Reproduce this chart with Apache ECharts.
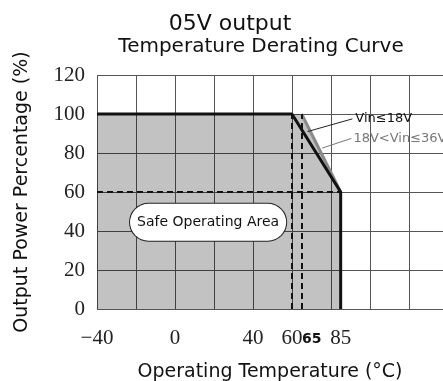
<!DOCTYPE html>
<html>
<head>
<meta charset="utf-8">
<script src="https://cdn.jsdelivr.net/npm/echarts@6/dist/echarts.min.js"></script>
<style>
  html, body { margin: 0; padding: 0; background: #fff; }
  #chart { width: 443px; height: 381px; }
</style>
</head>
<body>
<div id="chart"></div>
<script>
// derating curve, Vin <= 18V
var tempLow = [-40, 60, 85, 85];
var powerLow = [100, 100, 60, 0];
// derating curve, 18V < Vin <= 36V
var tempHigh = [65, 85];
var powerHigh = [100, 60];
// safe operating area outline
var areaTemp = [-40, 60, 65, 85, 85];
var areaPower = [100, 100, 100, 60, 0];
// x tick labels
var xLabels = [-40, 0, 40, 60, 65, 85];
// leader lines for the two labels
var leadLowX = [68, 91];
var leadLowY = [91, 97.5];
var leadHighX = [75.5, 90.5];
var leadHighY = [82.5, 87.5];

var sans = 'DejaVu Sans';
var serif = 'Liberation Serif';

function pairs(xs, ys) {
  return xs.map(function (x, i) { return [x, ys[i]]; });
}

var chart = echarts.init(document.getElementById('chart'));

var dashStyle = { color: '#111', width: 2, type: [6, 4] };

var option = {
  animation: false,
  backgroundColor: '#fff',
  grid: { left: 97, right: 0, top: 75, bottom: 72, outerBoundsMode: 'none', containLabel: false },
  xAxis: {
    type: 'value',
    min: -40,
    max: 137.5,
    interval: 20,
    name: 'Operating Temperature (°C)',
    nameLocation: 'middle',
    nameGap: 54,
    nameTextStyle: { fontFamily: sans, fontSize: 19, color: '#111' },
    axisLine: { show: false },
    axisTick: { show: false },
    axisLabel: {
      customValues: xLabels,
      margin: 19,
      fontFamily: serif,
      fontSize: 21,
      color: '#222',
      formatter: function (v) {
        if (v === 65) return '{b|65}';
        return v < 0 ? '\u2212' + Math.abs(v) : '' + v;
      },
      rich: {
        b: { fontFamily: sans, fontWeight: 'bold', fontSize: 14, color: '#111', padding: [4, 0, 0, 20] }
      }
    },
    splitLine: { show: true, lineStyle: { color: '#555', width: 1 } }
  },
  yAxis: {
    type: 'value',
    min: 0,
    max: 120,
    interval: 20,
    name: 'Output Power Percentage (%)',
    nameLocation: 'middle',
    nameGap: 65,
    nameTextStyle: { fontFamily: sans, fontSize: 19, color: '#111' },
    axisLine: { show: false },
    axisTick: { show: false },
    axisLabel: { margin: 12, fontFamily: serif, fontSize: 21, color: '#222' },
    splitLine: { show: true, lineStyle: { color: '#555', width: 1 } }
  },
  graphic: [
    { type: 'text', x: 230, y: 24, style: { text: '05V output', font: '22px "DejaVu Sans"', fill: '#111', align: 'center', verticalAlign: 'middle' } },
    { type: 'text', x: 261, y: 47, style: { text: 'Temperature Derating Curve', font: '20px "DejaVu Sans"', fill: '#111', align: 'center', verticalAlign: 'middle' } }
  ],
  series: [
    {
      // shaded area
      type: 'line',
      data: pairs(areaTemp, areaPower),
      symbol: 'none',
      lineStyle: { width: 0 },
      areaStyle: { color: 'rgba(0,0,0,0.24)', opacity: 1, origin: 'start' },
      z: 1
    },
    {
      // dashed guides
      type: 'line',
      data: [],
      symbol: 'none',
      markLine: {
        silent: true,
        symbol: 'none',
        label: { show: false },
        lineStyle: dashStyle,
        data: [
          [{ coord: [-40, 60] }, { coord: [85, 60] }],
          [{ coord: [60, 0] }, { coord: [60, 100] }],
          [{ coord: [65, 0] }, { coord: [65, 100] }]
        ]
      },
      z: 2
    },
    {
      type: 'line',
      data: pairs(tempHigh, powerHigh),
      symbol: 'none',
      lineStyle: { color: '#8a8a8a', width: 3 },
      z: 3
    },
    {
      type: 'line',
      data: pairs(tempLow, powerLow),
      symbol: 'none',
      lineStyle: { color: '#111', width: 3 },
      z: 4
    },
    {
      type: 'line',
      data: pairs(leadLowX, leadLowY),
      symbol: 'none',
      lineStyle: { color: '#222', width: 1 },
      endLabel: { show: true, formatter: 'Vin\u226418V', fontFamily: sans, fontSize: 13, color: '#111', distance: 3 },
      z: 5
    },
    {
      type: 'line',
      data: pairs(leadHighX, leadHighY),
      symbol: 'none',
      lineStyle: { color: '#777', width: 1 },
      endLabel: { show: true, formatter: '18V<Vin\u226436V', fontFamily: sans, fontSize: 13, color: '#777', distance: 2 },
      z: 5
    },
    {
      // label box
      type: 'scatter',
      data: [],
      markPoint: {
        silent: true,
        symbolSize: 0,
        data: [{ coord: [17, 44.5] }],
        label: {
          show: true,
          position: 'inside',
          formatter: 'Safe Operating Area',
          fontFamily: sans,
          fontSize: 14,
          color: '#111',
          backgroundColor: '#fff',
          borderColor: '#222',
          borderWidth: 1,
          borderRadius: 20,
          padding: [12, 7, 11, 7]
        }
      },
      z: 6
    }
  ]
};

chart.setOption(option);
</script>
</body>
</html>
